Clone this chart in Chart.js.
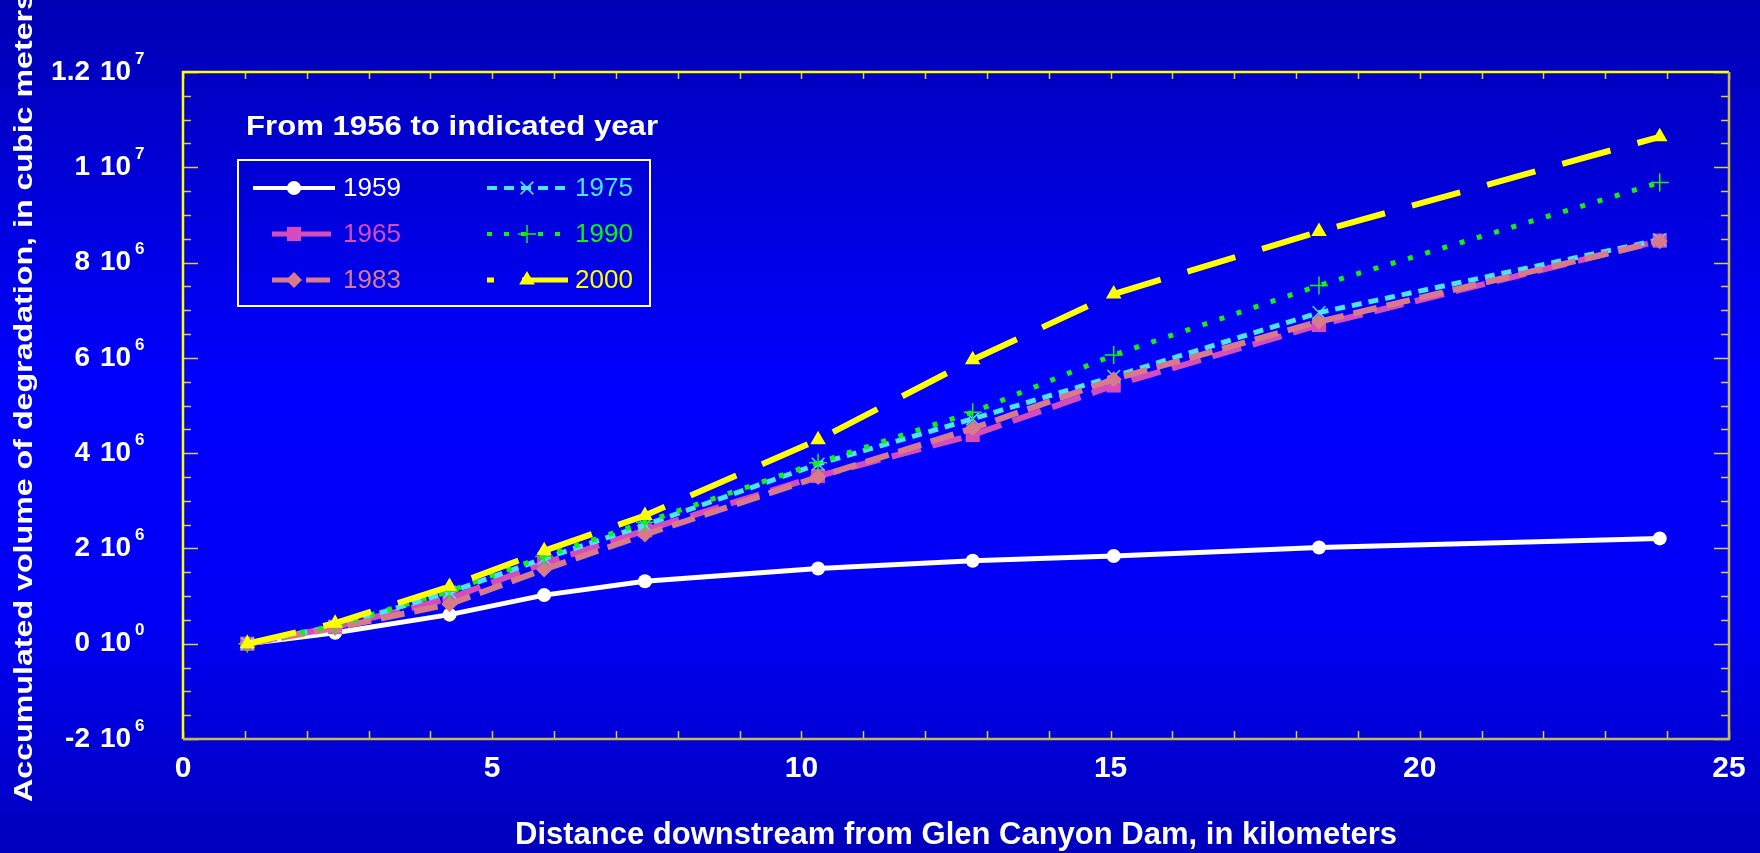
<!DOCTYPE html>
<html>
<head>
<meta charset="utf-8">
<script src="https://cdn.jsdelivr.net/npm/chart.js@4.4.1/dist/chart.umd.min.js"></script>
<style>
  html, body { margin: 0; padding: 0; background: #0000c8; overflow: hidden; }
  #wrap { width: 1760px; height: 853px; }
</style>
</head>
<body>
<div id="wrap"><canvas id="chart" width="1760" height="853"></canvas></div>
<script>
// distance downstream (km) of each measured cross-section
const distanceKm = [1.04, 2.46, 4.31, 5.84, 7.47, 10.27, 12.77, 15.05, 18.37, 23.88];

// accumulated volume of degradation, millions of cubic meters
const vol1959 = [0, 0.23, 0.61, 1.02, 1.31, 1.58, 1.74, 1.84, 2.02, 2.21];
const vol1965 = [0, 0.35, 0.95, 1.69, 2.38, 3.52, 4.38, 5.42, 6.69, 8.46];
const vol1975 = [0, 0.37, 1.08, 1.79, 2.49, 3.77, 4.72, 5.61, 6.95, 8.48];
const vol1983 = [0, 0.33, 0.83, 1.56, 2.29, 3.50, 4.52, 5.55, 6.76, 8.45];
const vol1990 = [0, 0.38, 1.10, 1.83, 2.55, 3.80, 4.86, 6.06, 7.52, 9.68];
const vol2000 = [0, 0.43, 1.20, 1.95, 2.69, 4.28, 5.96, 7.34, 8.65, 10.64];

const yearLabels = ["1959", "1965", "1975", "1983", "1990", "2000"];
const seriesValues = [vol1959, vol1965, vol1975, vol1983, vol1990, vol2000];

const xTickStep = 5;
const yTickStep = 2e6;
const legendTitle = "From 1956 to indicated year";
const xTitle = "Distance downstream from Glen Canyon Dam, in kilometers";
const yTitle = "Accumulated volume of degradation, in cubic meters";

const FONT = "'Liberation Sans', Arial, sans-serif";

// styling per series
const styles = [
  { color: "#ffffff", dash: [], legendDash: [], width: 5, point: "circle", r: 7 },
  { color: "#d64cbc", dash: [30, 12], legendDash: [], width: 6, point: "rect", r: 10 },
  { color: "#4ae4ff", dash: [10, 7], legendDash: [10, 7], width: 5, point: "crossRot", r: 9 },
  { color: "#d87a8c", dash: [24, 10], legendDash: [24, 10], width: 6, point: "rectRot", r: 8 },
  { color: "#14f014", dash: [5, 13], legendDash: [5, 12], width: 5, point: "cross", r: 9 },
  { color: "#ffff00", dash: [50, 28], legendDash: [50, 28], width: 6, point: "triangle", r: 9 }
];

function drawMarker(ctx, st, x, y) {
  const r = st.r;
  ctx.save();
  ctx.setLineDash([]);
  ctx.fillStyle = st.color;
  ctx.strokeStyle = st.color;
  ctx.beginPath();
  if (st.point === "circle") {
    ctx.arc(x, y, r, 0, Math.PI * 2);
    ctx.fill();
  } else if (st.point === "rect") {
    const s = r * Math.SQRT1_2;
    ctx.fillRect(x - s, y - s, 2 * s, 2 * s);
  } else if (st.point === "rectRot") {
    ctx.moveTo(x, y - r); ctx.lineTo(x + r, y); ctx.lineTo(x, y + r); ctx.lineTo(x - r, y);
    ctx.closePath(); ctx.fill();
  } else if (st.point === "triangle") {
    ctx.moveTo(x, y - r); ctx.lineTo(x + r * 0.87, y + r * 0.5); ctx.lineTo(x - r * 0.87, y + r * 0.5);
    ctx.closePath(); ctx.fill();
  } else if (st.point === "cross") {
    ctx.lineWidth = 1.5;
    ctx.moveTo(x, y - r); ctx.lineTo(x, y + r); ctx.moveTo(x - r, y); ctx.lineTo(x + r, y);
    ctx.stroke();
  } else if (st.point === "crossRot") {
    const s = r * Math.SQRT1_2;
    ctx.lineWidth = 1.5;
    ctx.moveTo(x - s, y - s); ctx.lineTo(x + s, y + s); ctx.moveTo(x + s, y - s); ctx.lineTo(x - s, y + s);
    ctx.stroke();
  }
  ctx.restore();
}

// text drawn a little wider than the font, as in the original
function stretchedText(ctx, text, x, y, fontPx, targetWidth, align) {
  ctx.font = "bold " + fontPx + "px " + FONT;
  const w = ctx.measureText(text).width;
  const sx = targetWidth / w;
  ctx.save();
  ctx.translate(x, y);
  ctx.scale(sx, 1);
  ctx.textAlign = align;
  ctx.fillText(text, 0, 0);
  ctx.restore();
}

const backgroundPlugin = {
  id: "bg",
  beforeDraw(chart) {
    const { ctx, width, height } = chart;
    const g = ctx.createLinearGradient(0, 0, 0, height);
    g.addColorStop(0, "#0000b4");
    g.addColorStop(0.45, "#0000ff");
    g.addColorStop(0.72, "#0000f6");
    g.addColorStop(1, "#0000bc");
    ctx.save();
    ctx.fillStyle = g;
    ctx.fillRect(0, 0, width, height);
    ctx.restore();
  }
};

// inward tick marks and the frame round the plot
const framePlugin = {
  id: "frame",
  afterDraw(chart) {
    const { ctx, chartArea: a, scales: { x, y } } = chart;
    ctx.save();
    ctx.lineWidth = 1.5;
    ctx.strokeStyle = "#d8d040";
    ctx.beginPath();
    for (let i = 0; i <= x.max - x.min; i++) {
      const px = Math.round(x.getPixelForValue(x.min + i)) + 0.5;
      ctx.moveTo(px, a.top); ctx.lineTo(px, a.top + 7);
      ctx.moveTo(px, a.bottom); ctx.lineTo(px, a.bottom - 8);
    }
    const n = Math.round((y.max - y.min) / 5e5);
    for (let i = 0; i <= n; i++) {
      const v = y.min + i * 5e5;
      const len = i % 4 === 0 ? 15 : 8;
      const py = Math.round(y.getPixelForValue(v)) + 0.5;
      ctx.moveTo(a.left, py); ctx.lineTo(a.left + len, py);
      ctx.moveTo(a.right, py); ctx.lineTo(a.right - len, py);
    }
    ctx.stroke();
    ctx.lineWidth = 2.5;
    ctx.strokeStyle = "#ffff00";
    ctx.beginPath();
    ctx.moveTo(a.left, a.bottom); ctx.lineTo(a.left, a.top); ctx.lineTo(a.right, a.top);
    ctx.stroke();
    ctx.strokeStyle = "#c8b850";
    ctx.beginPath();
    ctx.moveTo(a.right, a.top); ctx.lineTo(a.right, a.bottom); ctx.lineTo(a.left, a.bottom);
    ctx.stroke();
    ctx.restore();
  }
};

// y labels in the "m 10^e" form of the original, plus the y title
const yLabelPlugin = {
  id: "ylabels",
  afterDraw(chart) {
    const { ctx, chartArea: a, scales: { y } } = chart;
    ctx.save();
    ctx.fillStyle = "#ffffff";
    ctx.textBaseline = "middle";
    y.ticks.forEach(t => {
      const v = t.value;
      let exp = 0, mant = 0;
      if (v !== 0) {
        exp = Math.floor(Math.log10(Math.abs(v)));
        mant = Math.round(v / Math.pow(10, exp) * 10) / 10;
      }
      const py = y.getPixelForValue(v);
      ctx.font = "bold 28px " + FONT;
      ctx.textAlign = "right";
      ctx.fillText(String(mant), 90, py);
      ctx.textAlign = "left";
      ctx.fillText("10", 100, py);
      ctx.font = "bold 17px " + FONT;
      ctx.fillText(String(exp), 135, py - 13);
    });
    ctx.translate(25, 397);
    ctx.rotate(-Math.PI / 2);
    stretchedText(ctx, yTitle, 0, 0, 26, 810, "center");
    ctx.restore();
  }
};

const legendPlugin = {
  id: "boxLegend",
  afterDraw(chart) {
    const ctx = chart.ctx;
    ctx.save();
    ctx.fillStyle = "#ffffff";
    ctx.textBaseline = "middle";
    stretchedText(ctx, legendTitle, 246, 128, 27, 412, "left");
    ctx.strokeStyle = "#ffffff";
    ctx.lineWidth = 2;
    ctx.strokeRect(238, 160, 412, 146);
    // [column, row] of each year inside the box
    const slots = [[0, 0], [0, 1], [1, 0], [0, 2], [1, 1], [1, 2]];
    const cols = [{ x0: 253, x1: 335, mx: 294, tx: 343 }, { x0: 487, x1: 568, mx: 527, tx: 575 }];
    const rows = [188, 234, 280];
    ctx.font = "26px " + FONT;
    ctx.textAlign = "left";
    yearLabels.forEach((name, i) => {
      const st = styles[i];
      const c = cols[slots[i][0]], ry = rows[slots[i][1]];
      const x0 = (slots[i][0] === 0 && slots[i][1] > 0) ? 272 : c.x0;
      const x1 = (slots[i][0] === 0 && slots[i][1] > 0) ? 331 : c.x1;
      ctx.strokeStyle = st.color;
      ctx.lineWidth = st.width - 1;
      ctx.setLineDash(st.legendDash);
      ctx.lineDashOffset = st.point === "triangle" ? 43 : 0;
      ctx.beginPath();
      ctx.moveTo(x0, ry); ctx.lineTo(x1, ry);
      ctx.stroke();
      ctx.setLineDash([]);
      ctx.lineDashOffset = 0;
      drawMarker(ctx, st, c.mx, ry);
      ctx.fillStyle = st.color;
      ctx.fillText(name, c.tx, ry + 1);
    });
    ctx.restore();
  }
};

const datasets = yearLabels.map((name, i) => ({
  label: name,
  data: distanceKm.map((d, k) => ({ x: d, y: seriesValues[i][k] * 1e6 })),
  borderColor: styles[i].color,
  backgroundColor: styles[i].color,
  borderWidth: styles[i].width,
  borderDash: styles[i].dash,
  pointStyle: styles[i].point,
  pointRadius: styles[i].r,
  pointBorderWidth: (styles[i].point === "cross" || styles[i].point === "crossRot") ? 1.5 : 0,
  pointBorderColor: styles[i].color,
  pointBackgroundColor: styles[i].color,
  tension: 0,
  fill: false,
  order: yearLabels.length - i
}));

new Chart(document.getElementById("chart"), {
  type: "line",
  data: { datasets },
  options: {
    responsive: false,
    animation: false,
    devicePixelRatio: 1,
    layout: { padding: { top: 72, right: 31, left: 0, bottom: 0 } },
    plugins: { legend: { display: false }, tooltip: { enabled: false } },
    scales: {
      x: {
        type: "linear",
        min: 0,
        max: 25,
        afterFit: s => { s.height = 114; },
        grid: { display: false, drawTicks: false },
        border: { display: false },
        ticks: {
          stepSize: xTickStep,
          color: "#ffffff",
          padding: 12,
          maxRotation: 0,
          font: { family: FONT, size: 30, weight: "bold" }
        },
        title: {
          display: true,
          text: xTitle,
          color: "#ffffff",
          padding: { bottom: 2, top: 0 },
          font: { family: FONT, size: 31, weight: "bold", lineHeight: 1 }
        }
      },
      y: {
        min: -2e6,
        max: 1.2e7,
        afterFit: s => { s.width = 183; },
        grid: { display: false, drawTicks: false },
        border: { display: false },
        ticks: { stepSize: yTickStep, display: false }
      }
    }
  },
  plugins: [backgroundPlugin, framePlugin, yLabelPlugin, legendPlugin]
});
</script>
</body>
</html>
